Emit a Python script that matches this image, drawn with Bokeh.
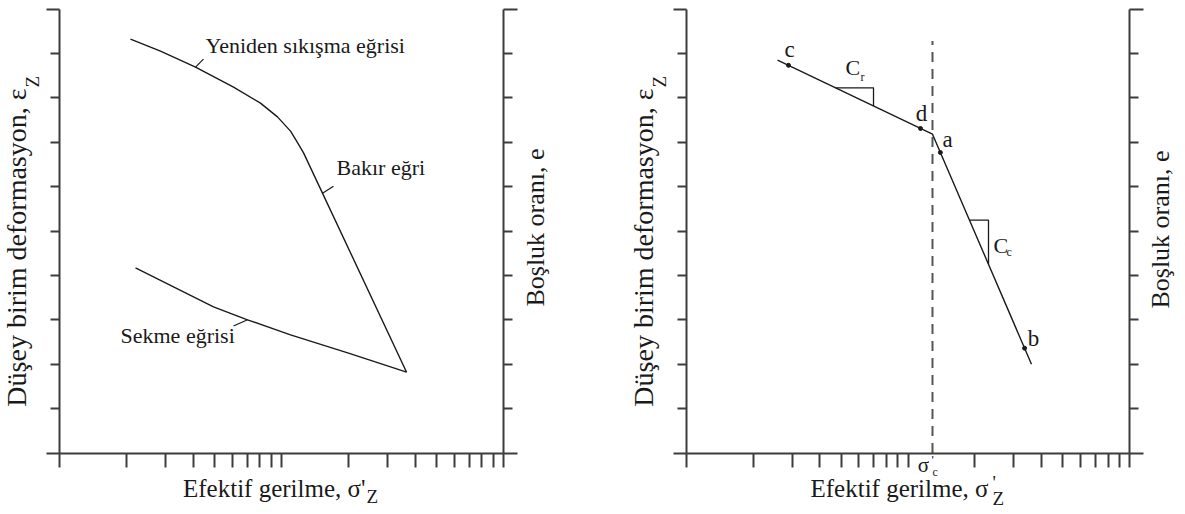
import numpy as np
from bokeh.plotting import figure
from bokeh.models import Label, LinearAxis, LogAxis, FixedTicker, Range1d, LogScale
from bokeh.embed import file_html
from bokeh.resources import INLINE

# ---------------- data ----------------
# left panel: recompression / virgin curve and rebound curve (x: log effective stress, y: strain units)
recomp_x = [2.088, 2.851, 4.10, 6.08, 8.04, 9.59, 10.98, 11.68, 12.57, 36.6]
recomp_y = [9.32, 9.05, 8.69, 8.24, 7.88, 7.57, 7.25, 7.03, 6.76, 1.82]
rebound_x = [2.20, 4.94, 7.03, 10.98, 20.04, 36.6]
rebound_y = [4.17, 3.29, 3.00, 2.66, 2.25, 1.82]

# leader lines (anchor on curve -> end near text)
lead_recomp_x = [4.10, 15.30]
lead_recomp_end_x = [4.45, 17.15]
lead_recomp_end_y = [8.87, 6.01]
lead_reb_x = [7.03]
lead_reb_end_x = [6.08]
lead_reb_end_y = [2.86]

# right panel: bilinear idealisation
line_x = [2.576, 12.90, 36.1]
line_y = [8.85, 7.18, 2.00]
pt_names = ["c", "d", "a", "b"]
pt_x = [2.887, 11.39, 14.0, 33.6]
sigma_c = 12.90
dash_top = 9.28
tri_cr_x = [4.707, 6.987]
tri_cc_x = [18.95, 23.09]

x_ticks = [1, 2, 3, 4, 5, 6, 7, 8, 9, 10, 20, 30, 40, 50, 60, 70, 80, 90, 100]
y_major = [0, 10]
y_minor = [1, 2, 3, 4, 5, 6, 7, 8, 9]

FONT = "Liberation Serif"
INK = "#1a1a1a"
AX = "#3c3c3c"

# ---------------- page geometry (pixels) ----------------
W, H = 1180, 510
Y0_PX, Y_UNIT = 452.5, 44.4            # y = 0 line and pixels per y unit (both panels)
P1_LEFT, P1_DEC = 59.0, 222.0          # left panel: x = 1 position, pixels per decade
P2_LEFT, P2_DEC = 686.0, 221.5         # right panel
BASE_SHIFT = 0.38                      # em correction for label baseline placement


def interp_log(xq, xs, ys):
    return list(np.interp(np.log10(xq), np.log10(xs), ys))


p = figure(width=W, height=H, x_axis_type="log",
           x_range=Range1d(10 ** (-P1_LEFT / P1_DEC), 10 ** ((W - P1_LEFT) / P1_DEC)),
           y_range=Range1d(-(H - Y0_PX) / Y_UNIT, Y0_PX / Y_UNIT),
           x_axis_location=None, y_axis_location=None, min_border=0,
           output_backend="svg", toolbar_location=None)
p.extra_x_ranges = {"p2x": Range1d(10 ** (-P2_LEFT / P2_DEC), 10 ** ((W - P2_LEFT) / P2_DEC))}
p.extra_x_scales = {"p2x": LogScale()}
p.outline_line_color = None
p.background_fill_color = "white"
p.border_fill_color = "white"
p.grid.visible = False


def style(ax, tick_out, minor_out):
    ax.axis_line_color = AX
    ax.axis_line_width = 2
    ax.major_tick_line_color = AX
    ax.major_tick_line_width = 2
    ax.minor_tick_line_color = AX
    ax.minor_tick_line_width = 2
    ax.major_tick_in = 0
    ax.minor_tick_in = 0
    ax.major_tick_out = tick_out
    ax.minor_tick_out = minor_out
    ax.major_label_text_color = None
    ax.major_label_text_font_size = "1px"
    ax.major_label_standoff = 0


for rn in ("default", "p2x"):
    xa = LogAxis(x_range_name=rn, fixed_location=0, bounds=(1, 100),
                 ticker=FixedTicker(ticks=x_ticks, minor_ticks=[]))
    style(xa, 14, 0)
    p.add_layout(xa, "below")
    ya = LinearAxis(x_range_name=rn, fixed_location=1, bounds=(0, 10),
                    ticker=FixedTicker(ticks=y_major, minor_ticks=y_minor))
    style(ya, 13, 9)
    p.add_layout(ya, "left")
    ra = LinearAxis(x_range_name=rn, fixed_location=100, bounds=(0, 10),
                    ticker=FixedTicker(ticks=y_major, minor_ticks=y_minor))
    style(ra, 14, 9)
    p.add_layout(ra, "right")


def lab(px, py, text, size, panel=1, vertical=False, align="left"):
    # px, py: page position of the text baseline anchor
    if vertical:
        px = px - BASE_SHIFT * size
    else:
        py = py - BASE_SHIFT * size
    left, dec = (P1_LEFT, P1_DEC) if panel == 1 else (P2_LEFT, P2_DEC)
    p.add_layout(Label(x=10 ** ((px - left) / dec), y=(Y0_PX - py) / Y_UNIT,
                       x_range_name="default" if panel == 1 else "p2x",
                       text=text, text_font=FONT, text_font_size=f"{size}px",
                       angle=np.pi / 2 if vertical else 0.0, text_align=align,
                       text_baseline="alphabetic", text_color=INK))


# ---------------- left panel ----------------
p.line(recomp_x, recomp_y, line_color=INK, line_width=1.4)
p.line(rebound_x, rebound_y, line_color=INK, line_width=1.4)
ly = interp_log(lead_recomp_x, recomp_x, recomp_y)
p.segment(lead_recomp_x, ly, lead_recomp_end_x, lead_recomp_end_y, line_color=INK, line_width=1.2)
ry = interp_log(lead_reb_x, rebound_x, rebound_y)
p.segment(lead_reb_x, ry, lead_reb_end_x, lead_reb_end_y, line_color=INK, line_width=1.2)

lab(205, 53, "Yeniden sıkışma eğrisi", 22)
lab(336, 175, "Bakır eğri", 22)
lab(120, 343, "Sekme eğrisi", 22)

lab(27, 88, "Düşey birim deformasyon, ε", 28, vertical=True, align="right")
lab(39, 87, "Z", 19, vertical=True)
lab(545, 227, "Boşluk oranı, e", 26, vertical=True, align="center")
lab(365, 497, "Efektif gerilme, σ'", 25, align="right")
lab(366, 503, "Z", 19)

# ---------------- right panel ----------------
p.line([sigma_c, sigma_c], [0, dash_top], x_range_name="p2x",
       line_color="#555555", line_width=2, line_dash="10 7")
p.line(line_x, line_y, x_range_name="p2x", line_color=INK, line_width=1.4)
pt_y = interp_log(pt_x, line_x, line_y)
p.scatter(pt_x, pt_y, x_range_name="p2x", size=4, color=INK)

for tri in (tri_cr_x, tri_cc_x):
    ty = interp_log(tri, line_x, line_y)
    p.line([tri[0], tri[1], tri[1]], [ty[0], ty[0], ty[1]], x_range_name="p2x",
           line_color=INK, line_width=1.3)

pt_pos = {"c": (789, 58), "d": (921, 122), "a": (947, 148), "b": (1033, 347)}
for n in pt_names:
    lab(*pt_pos[n], n, 23, panel=2, align="center")

lab(845, 75, "C", 22, panel=2)
lab(860, 81, "r", 12, panel=2)
lab(993, 253, "C", 22, panel=2)
lab(1006, 256, "c", 12, panel=2)

lab(923, 472, "σ", 21, panel=2, align="center")
lab(931, 464, "'", 13, panel=2)
lab(932, 476, "c", 12, panel=2)

lab(654, 88, "Düşey birim deformasyon, ε", 28, panel=2, vertical=True, align="right")
lab(666, 87, "Z", 19, panel=2, vertical=True)
lab(1170, 229, "Boşluk oranı, e", 26, panel=2, vertical=True, align="center")
lab(988, 497, "Efektif gerilme, σ", 25, panel=2, align="right")
lab(992, 489, "'", 19, panel=2)
lab(992, 505, "Z", 19, panel=2)

open("out.html", "w").write(file_html(p, INLINE))
